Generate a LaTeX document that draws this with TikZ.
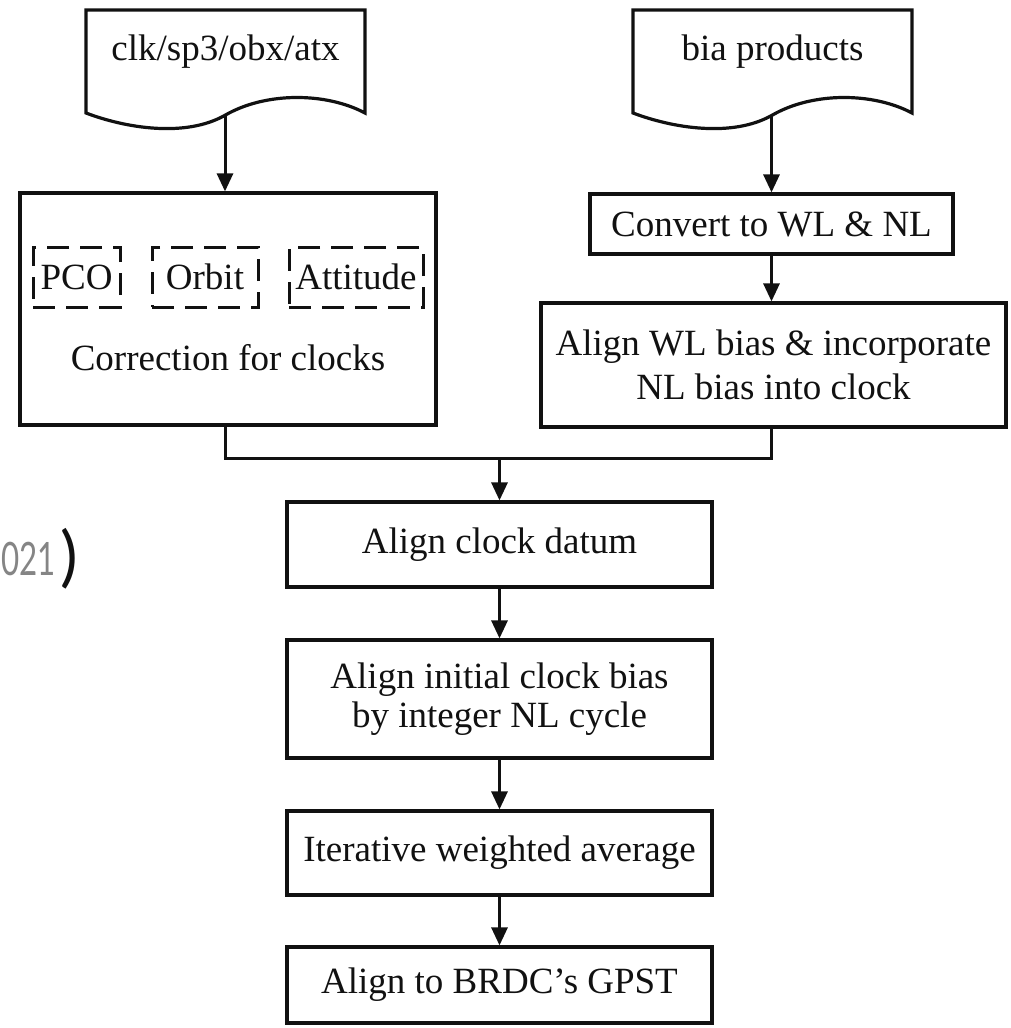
\documentclass[tikz,border=0pt]{standalone}
\usepackage{fontspec}
\setmainfont{Liberation Serif}
\newfontfamily\fragfont{Lato}
\usetikzlibrary{arrows.meta,calc}

\definecolor{ink}{HTML}{111111}
\definecolor{fraggray}{HTML}{858585}

\tikzset{
  % input file drawn as a document symbol with a wavy lower edge
  docshape/.pic={
    \draw[line join=miter]
      (-139.5,-52) -- (139.5,-52) -- (139.5,51)
      .. controls (100,30) and (40,30) .. (0,53)
      .. controls (-40,76) and (-100,66) .. (-139.5,51) -- cycle;
  }
}

\begin{document}
\begin{tikzpicture}[x=1pt,y=-1pt,
  font=\fontsize{37}{44}\selectfont,
  line width=3.2pt, draw=ink, text=ink,
  stepbox/.style={draw, rectangle, inner sep=0pt, align=center},
  subbox/.style={draw, dash pattern=on 22pt off 11pt, line width=3pt,
                 inner sep=0pt, minimum height=60pt},
  flow/.style={-{Triangle[length=18pt,width=16pt]}, line width=3pt},
  joinline/.style={line width=3pt}]

\useasboundingbox[fill=white] (0,0) rectangle (1010,1028);

% product inputs
\pic at (225.5,62) {docshape};
\node (src1) at (225.5,52) {clk/sp3/obx/atx};
\coordinate (src1out) at (225,115);

\pic at (772.5,62) {docshape};
\node (src2) at (772.5,52) {bia products};
\coordinate (src2out) at (771.5,115);

% clock correction block
\node[stepbox, minimum width=416pt, minimum height=232pt] (corr) at (228,309) {};
\node[subbox, minimum width=87pt]  (pco)   at (76.5,277) {PCO};
\node[subbox, minimum width=106pt] (orbit) at (205,277)  {Orbit};
\node[subbox, minimum width=134pt] (att)   at (356,277)  {Attitude};
\node (corrlbl) at (228,358) {Correction for clocks};

% bias block
\node[stepbox, minimum width=363pt, minimum height=60pt] (conv) at (771.5,224) {Convert to WL \& NL};
\node[stepbox, minimum width=465pt, minimum height=124pt] (alwl) at (773.5,365)
  {Align WL bias \& incorporate\\NL bias into clock};

% main chain
\coordinate (mrg) at (499.5,458);
\node[stepbox, minimum width=425pt, minimum height=85pt]  (datum) at (499.5,544.5)
  {\raisebox{4pt}{Align clock datum}};
\node[stepbox, minimum width=425pt, minimum height=118pt] (init)  at (499.5,699)
  {\raisebox{3pt}{\shortstack{Align initial clock bias\\[3pt]by integer NL cycle}}};
\node[stepbox, minimum width=425pt, minimum height=84pt]  (iter)  at (499.5,853) {Iterative weighted average};
\node[stepbox, minimum width=425pt, minimum height=76pt]  (final) at (499.5,985) {Align to BRDC's GPST};

% connectors
\draw[flow] (src1out) -- (src1out |- corr.north);
\draw[flow] (src2out) -- (src2out |- conv.north);
\draw[flow] (conv.south) -- (conv.south |- alwl.north);
\draw[joinline] (src1out |- corr.south) |- (mrg) -| (conv.south |- alwl.south);
\draw[flow] (mrg) -- (datum.north);
\draw[flow] (datum) -- (init);
\draw[flow] (init) -- (iter);
\draw[flow] (iter) -- (final);

% stray fragment at the left margin
\node[anchor=west, inner sep=0pt, text=fraggray] (frag) at (0,559)
  {\fragfont\fontsize{46}{46}\selectfont\scalebox{0.68}[1]{021}};
\node[anchor=west, inner sep=0pt] (fragp) at (59,559)
  {\fragfont\fontsize{66}{66}\selectfont )};
\end{tikzpicture}
\end{document}
